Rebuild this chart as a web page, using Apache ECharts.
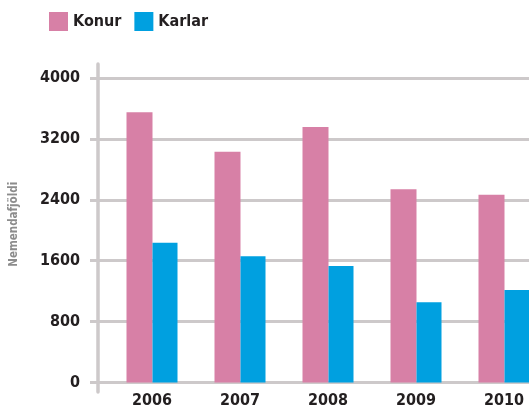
<!DOCTYPE html>
<html>
<head>
<meta charset="utf-8">
<script src="https://cdn.jsdelivr.net/npm/echarts@6/dist/echarts.min.js"></script>
<style>
  html, body { margin: 0; padding: 0; background: #fff; overflow: hidden; }
  #chart { width: 548px; height: 409px; }
</style>
</head>
<body>
<div id="chart"></div>
<script>
  var years = ['2006', '2007', '2008', '2009', '2010']
  var konur = [3550, 3030, 3355, 2540, 2465]
  var karlar = [1835, 1660, 1530, 1055, 1215]
  var yTicks = [0, 800, 1600, 2400, 3200, 4000]

  var COLORS = {
    konur: '#d780a6',
    karlar: '#00a0e0',
    grid: '#cdc9ca',
    text: '#231f20',
    axisName: '#8c8c8c'
  }
  var FONT = '"DejaVu Sans Condensed", "Liberation Sans Narrow", sans-serif'

  // the reference is cropped on the right, so the chart is a bit wider than the window
  var chart = echarts.init(document.getElementById('chart'))

  chart.setOption({
    animation: false,
    legend: {
      left: 49, top: 12, padding: 0,
      itemWidth: 19, itemHeight: 19, itemGap: 13,
      icon: 'rect',
      textStyle: { fontFamily: FONT, fontWeight: 'bold', fontSize: 16, color: COLORS.text },
      data: ['Konur', 'Karlar']
    },
    grid: [
      { left: 98, right: 19, top: 64, bottom: 17 },
      { left: 90, right: 19, top: 78, height: 304.5 },
      { left: 108, right: 0, top: 78, height: 304.5 }
    ],
    xAxis: [
      { gridIndex: 0, type: 'value', show: false },
      { gridIndex: 1, type: 'value', show: false },
      {
        gridIndex: 2, type: 'category', data: years,
        axisLine: { show: false }, axisTick: { show: false },
        axisLabel: { margin: 10, fontFamily: FONT, fontWeight: 'bold', fontSize: 16, color: COLORS.text }
      }
    ],
    yAxis: [
      {
        gridIndex: 0, type: 'value', min: 0, max: 1,
        axisLine: { show: true, lineStyle: { color: COLORS.grid, width: 3.5 } },
        axisTick: { show: false }, axisLabel: { show: false }, splitLine: { show: false }
      },
      {
        gridIndex: 1, type: 'value', min: yTicks[0], max: yTicks[yTicks.length - 1], interval: 800,
        name: 'Nemendafjöldi', nameLocation: 'middle', nameGap: 70,
        nameTextStyle: { fontFamily: FONT, fontWeight: 'bold', fontSize: 11.5, color: COLORS.axisName, padding: [0, 0, 0, 12] },
        axisLine: { show: false }, axisTick: { show: false },
        axisLabel: {
          margin: 10, fontFamily: FONT, fontWeight: 'bold', fontSize: 16, color: COLORS.text,
          formatter: function (v) { return String(v) }
        },
        splitLine: { lineStyle: { color: COLORS.grid, width: 3 } }
      },
      { gridIndex: 2, type: 'value', min: 0, max: 4000, show: false }
    ],
    series: [
      {
        name: 'Konur', type: 'bar', xAxisIndex: 2, yAxisIndex: 2,
        data: konur, barWidth: 26, barGap: '0%',
        itemStyle: { color: COLORS.konur }
      },
      {
        name: 'Karlar', type: 'bar', xAxisIndex: 2, yAxisIndex: 2,
        data: karlar, barWidth: 25, barGap: '0%',
        itemStyle: { color: COLORS.karlar }
      }
    ]
  })
</script>
</body>
</html>
